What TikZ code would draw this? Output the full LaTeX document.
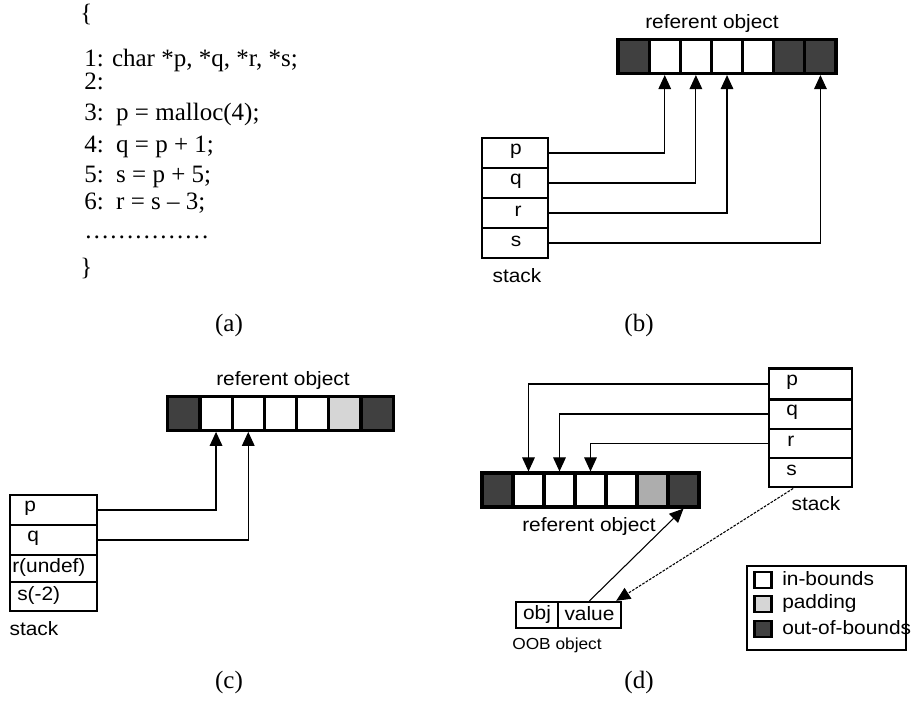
\documentclass[tikz,border=0pt]{standalone}
\usepackage{fontspec}
\setmainfont{Liberation Serif}
\newfontfamily\lblfont[FakeStretch=1.08]{Liberation Sans}
\usetikzlibrary{arrows.meta}
\definecolor{darkcell}{HTML}{404040}
\definecolor{padlight}{HTML}{D6D6D6}
\definecolor{padmid}{HTML}{ADADAD}
\tikzset{
  codeline/.style={anchor=base west, inner sep=0pt, font=\fontsize{18.75}{22}\selectfont},
  captxt/.style={inner sep=0pt, font=\fontsize{18.75}{22}\selectfont},
  lbl/.style={inner sep=0pt, font=\lblfont\fontsize{14.5}{17}\selectfont},
  smalllbl/.style={inner sep=0pt, font=\lblfont\fontsize{12}{14}\selectfont},
  cell/.style={draw=black, line width=2.4pt, rectangle, inner sep=0pt, minimum height=25.5pt},
  srow/.style={draw=black, line width=2.2pt, rectangle, inner sep=0pt},
  legsq/.style={draw=black, line width=2pt, rectangle, inner sep=0pt, minimum width=13pt, minimum height=12pt},
  conn/.style={line width=0.8pt, -{Triangle[width=9.5pt,length=10.5pt]}},
  plainconn/.style={line width=0.8pt}
}
\begin{document}
\begin{tikzpicture}[x=0.75pt,y=-0.75pt]
\useasboundingbox (0,0) rectangle (915,708);

% ---------------- (a) code ----------------
\node[codeline] (ob) at (80,21) {\{};
\node[codeline] (l1) at (84,66) {1: char *p, *q, *r, *s;};
\node[codeline] (l2) at (84,89) {2:};
\node[codeline] (l3) at (84,120) {3:\ \ p = malloc(4);};
\node[codeline] (l4) at (84,152) {4:\ \ q = p + 1;};
\node[codeline] (l5) at (84,182) {5:\ \ s = p + 5;};
\node[codeline] (l6) at (84,209) {6:\ \ r = s – 3;};
\node[codeline] (l7) at (84,238) {……………};
\node[codeline] (cb) at (80,275) {\}};
\node[captxt] (capa) at (229,325) {(a)};

% ---------------- (b) ----------------
\node[lbl] (brefl) at (712,23) {referent object};
\foreach \i/\c in {1/darkcell,2/white,3/white,4/white,5/white,6/darkcell,7/darkcell}
  \node[cell, fill=\c, minimum width=23.35pt] (b\i) at ({633.6+(\i-1)*31.14},56.5) {};
\node[srow, minimum width=49.5pt, minimum height=22.5pt] (bp) at (515,153) {};
\node[srow, minimum width=49.5pt, minimum height=22.5pt] (bq) at (515,183) {};
\node[srow, minimum width=49.5pt, minimum height=22.5pt] (br) at (515,213) {};
\node[srow, minimum width=49.5pt, minimum height=22.5pt] (bs) at (515,243) {};
\node[lbl] (bpl) at (516,151) {p};
\node[lbl] (bql) at (516,181) {q};
\node[lbl] (brl) at (518,211) {r};
\node[lbl] (bsl) at (516,241) {s};
\node[lbl] (bstk) at (517,276) {stack};
\draw[conn] (bp.east) -| (b2.south);
\draw[conn] (bq.east) -| (b3.south);
\draw[conn] (br.east) -| (b4.south);
\draw[conn] (bs.east) -| (b7.south);
\node[captxt] (capb) at (639,325) {(b)};

% ---------------- (c) ----------------
\node[lbl] (crefl) at (283,380) {referent object};
\foreach \i/\c in {1/darkcell,2/white,3/white,4/white,5/white,6/padlight,7/darkcell}
  \node[cell, fill=\c, minimum width=24.17pt] (c\i) at ({183.8+(\i-1)*32.23},413.3) {};
\node[srow, minimum width=65.25pt, minimum height=22.5pt] (cp) at (53.5,510) {};
\node[srow, minimum width=65.25pt, minimum height=22.5pt] (cq) at (53.5,540) {};
\node[srow, minimum width=65.25pt, minimum height=20.25pt] (cr) at (53.5,568.5) {};
\node[srow, minimum width=65.25pt, minimum height=21.75pt] (cs) at (53.5,596.5) {};
\node[lbl, anchor=west] (cpl) at (24,508) {p};
\node[lbl, anchor=west] (cql) at (27,538) {q};
\node[lbl, anchor=west] (crl) at (12,567) {r(undef)};
\node[lbl, anchor=west] (csl) at (17,595) {s(-2)};
\node[lbl] (cstk) at (34,629) {stack};
\draw[conn] (cp.east) -| (c2.south);
\draw[conn] (cq.east) -| (c3.south);
\node[captxt] (capc) at (229,682) {(c)};

% ---------------- (d) ----------------
\foreach \i/\c in {1/darkcell,2/white,3/white,4/white,5/white,6/padmid,7/darkcell}
  \node[cell, fill=\c, minimum width=23.25pt] (d\i) at ({497.5+(\i-1)*31},490) {};
\node[lbl] (drefl) at (589,526) {referent object};
\node[srow, minimum width=62.25pt, minimum height=23pt] (dp) at (810.5,384) {};
\node[srow, minimum width=62.25pt, minimum height=22.5pt] (dq) at (810.5,414) {};
\node[srow, minimum width=62.25pt, minimum height=21.75pt] (dr) at (810.5,443.5) {};
\node[srow, minimum width=62.25pt, minimum height=21.75pt] (ds) at (810.5,472.5) {};
\node[lbl, anchor=west] (dpl) at (786,382) {p};
\node[lbl, anchor=west] (dql) at (786,412) {q};
\node[lbl, anchor=west] (drl) at (787,441) {r};
\node[lbl, anchor=west] (dsl) at (786,470) {s};
\node[lbl] (dstk) at (816,504) {stack};
\draw[conn] (dp.west) -| (d2.north);
\draw[conn] (dq.west) -| (d3.north);
\draw[conn] (dr.west) -| (d4.north);
% OOB object
\node[srow, line width=1.8pt, minimum width=31.5pt, minimum height=19.5pt] (oobj) at (537,615) {};
\node[srow, line width=1.8pt, minimum width=47.25pt, minimum height=19.5pt] (oval) at (589.5,615) {};
\node[lbl] (oobjl) at (537,614) {obj};
\node[lbl] (ovall) at (589.5,614) {value};
\node[smalllbl] (oobl) at (557,645) {OOB object};
\draw[conn] (oval.north) -- (d7.south);
\draw[conn, dash pattern=on 2pt off 1pt] ([xshift=-13pt]ds.south) -- ([xshift=-4.5pt]oval.north east);
% legend
\node[draw=black, line width=2.2pt, rectangle, inner sep=0pt, minimum width=119.25pt, minimum height=63pt] (leg) at (826.5,608) {};
\node[legsq, fill=white] (lg1) at (763,580) {};
\node[legsq, fill=padlight] (lg2) at (763,604) {};
\node[legsq, fill=darkcell] (lg3) at (763,629) {};
\node[lbl, anchor=west] (lg1t) at (782,579) {in-bounds};
\node[lbl, anchor=west] (lg2t) at (782,603) {padding};
\node[lbl, anchor=west] (lg3t) at (782,628) {out-of-bounds};
\node[captxt] (capd) at (639,682) {(d)};
\end{tikzpicture}
\end{document}
